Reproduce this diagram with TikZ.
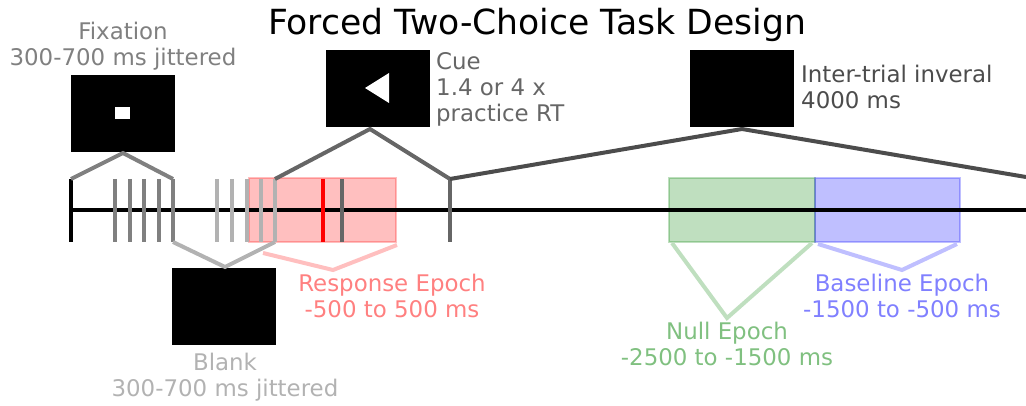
\documentclass[tikz,border=0pt]{standalone}
\usepackage{fontspec}
\setmainfont{DejaVu Sans}
\definecolor{fixc}{gray}{0.5}
\definecolor{blankc}{gray}{0.7}
\definecolor{cuec}{gray}{0.4}
\definecolor{itic}{gray}{0.3}
\definecolor{respc}{RGB}{255,0,0}
\definecolor{nullc}{RGB}{0,128,0}
\definecolor{basec}{RGB}{0,0,255}
\begin{document}
\begin{tikzpicture}[x=1pt,y=-1pt,
  lbl/.style={font=\fontsize{22.9}{26}\selectfont, inner sep=0pt, align=center},
  lbll/.style={font=\fontsize{22.9}{26}\selectfont, inner sep=0pt, align=left},
  screen/.style={fill=black, minimum width=104pt, minimum height=77pt, inner sep=0pt, draw=none, anchor=north west},
  tk/.style={line width=3.8pt},
  brk/.style={line width=4pt, line join=miter},
  epoch/.style={line width=2.5pt, fill opacity=0.25, draw opacity=0.25},
]
\useasboundingbox (0,0) rectangle (1026,406);

% title
\node[font=\fontsize{34.6}{40}\selectfont, inner sep=0pt, anchor=base] (title) at (537,35) {Forced Two-Choice Task Design};

% screens
\node[screen] (fixbox) at (71,75) {};
\node[screen] (cuebox) at (326,50) {};
\node[screen] (blankbox) at (172,268) {};
\node[screen] (itibox) at (690,50) {};
\fill[white] (115,107) rectangle (130,119);
\fill[white] (365,88) -- (389,73) -- (389,103) -- cycle;

% epoch rectangles
\filldraw[epoch, fill=respc, draw=respc] (249,178) rectangle (396,242);
\filldraw[epoch, fill=nullc, draw=nullc] (669,178) rectangle (815,242);
\filldraw[epoch, fill=basec, draw=basec] (815,178) rectangle (960,242);

% timeline
\coordinate (t0) at (71,210);
\coordinate (tend) at (1026,210);
\draw[line width=3.8pt] (t0) -- (tend);

% ticks
\draw[tk, black] (71,179) -- (71,242);
\foreach \x in {115,130,144,159,173} \draw[tk, fixc] (\x,179) -- (\x,242);
\foreach \x in {217,232,247,261,275} \draw[tk, blankc] (\x,179) -- (\x,242);
\draw[tk, respc, line width=4pt] (323,179) -- (323,242);
\draw[tk, cuec] (342,179) -- (342,242);
\draw[tk, cuec] (450,179) -- (450,242);

% brackets
\coordinate (fixpk) at (123,153);
\coordinate (blankpk) at (225,267);
\coordinate (cuepk) at (370,129);
\coordinate (itipk) at (742,129);
\coordinate (itiend) at (1026,177);
\draw[brk, fixc] (71,179) -- (fixpk) -- (173,179);
\draw[brk, blankc] (173,242) -- (blankpk) -- (275,242);
\draw[brk, cuec] (275,179) -- (cuepk) -- (450,179);
\draw[brk, itic] (450,179) -- (itipk) -- (itiend);
\draw[brk, respc!25] (263,253) -- (333,270) -- (397,245);
\draw[brk, nullc!25] (672,243) -- (727,318) -- (812,243);
\draw[brk, basec!25] (818,244) -- (902,270) -- (957,244);

% labels (anchor = baseline of the last line)
\node[lbl, fixc, anchor=base] (fixlbl) at (123,66) {Fixation\\300-700 ms jittered};
\node[lbll, cuec, anchor=base west] (cuelbl) at (436,122) {Cue\\1.4 or 4 x\\practice RT};
\node[lbll, itic, anchor=base west] (itilbl) at (801,109) {Inter-trial inveral\\4000 ms};
\node[lbl, blankc, anchor=base] (blanklbl) at (225,396) {Blank\\300-700 ms jittered};
\node[lbl, respc!50, anchor=base] (resplbl) at (392,317) {Response Epoch\\-500 to 500 ms};
\node[lbl, nullc!50, anchor=base] (nulllbl) at (727,365) {Null Epoch\\-2500 to -1500 ms};
\node[lbl, basec!50, anchor=base] (baselbl) at (902,317) {Baseline Epoch\\-1500 to -500 ms};
\end{tikzpicture}
\end{document}
